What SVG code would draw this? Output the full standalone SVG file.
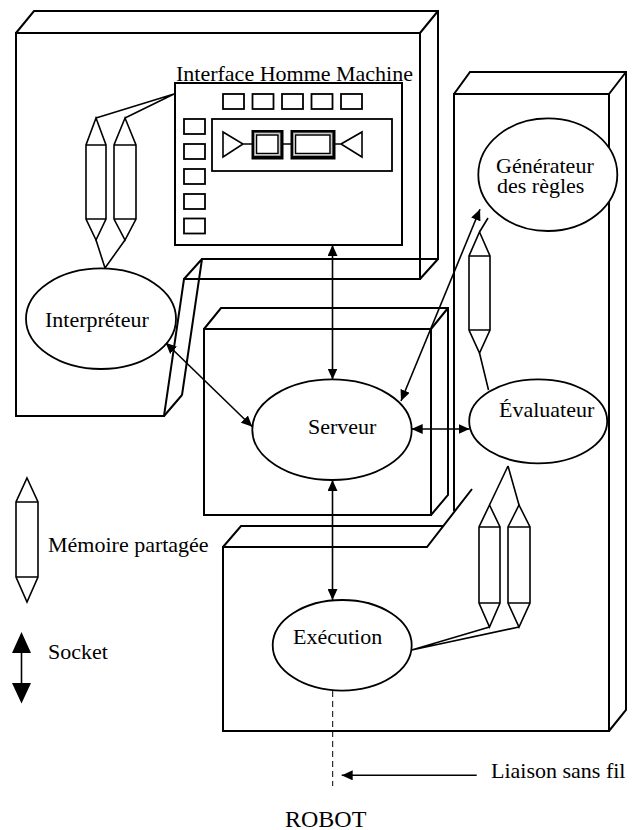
<svg xmlns="http://www.w3.org/2000/svg" width="638" height="830" viewBox="0 0 638 830">
<style>
.box{fill:none;stroke:#000;stroke-width:2;stroke-linejoin:miter}
.node{fill:#fff;stroke:#000;stroke-width:1.8}
.pipe{fill:#fff;stroke:#000;stroke-width:1.6;stroke-linejoin:miter}
.link{fill:none;stroke:#000;stroke-width:1.6}
.arr{fill:none;stroke:#000;stroke-width:1.6;marker-start:url(#ah);marker-end:url(#ah)}
.sq{fill:#fff;stroke:#000;stroke-width:1.8}
text{font-family:"Liberation Serif","Times New Roman",serif;font-size:22px;fill:#000}
</style>
<defs>
<marker id="ah" viewBox="0 0 11 10" refX="11" refY="5" markerWidth="11" markerHeight="10" markerUnits="userSpaceOnUse" orient="auto-start-reverse">
<path d="M0,0 L11,5 L0,10 z" fill="#000"/>
</marker>
</defs>
<rect width="638" height="830" fill="#fff"/>

<g id="box-ihm">
<path class="box" d="M16,33 H420 V279 H184 L164,416 H16 Z"/>
<path class="box" d="M16,33 L34,11 H438 V259 H202 L182,395 M420,33 L438,11 M420,279 L438,259 M184,279 L202,259 M164,416 L182,395"/>
</g>

<g id="box-serveur">
<rect class="box" x="204" y="329" width="227" height="186"/>
<path class="box" d="M204,329 L221,308 H448 V495 L431,515 M431,329 L448,308"/>
</g>

<g id="box-droite">
<path class="box" d="M454,511 V94 H609 V731 H223 V547 H427 L472,489"/>
<path class="box" d="M454,94 L470,72 H626 V710 L609,731 M609,94 L626,72 M223,547 L241,526 H443"/>
</g>

<g id="ihm">
<text x="176" y="81">Interface Homme Machine</text>
<rect class="box" x="175" y="83" width="227" height="162"/>
<g id="ihm-top-buttons">
<rect class="sq" x="223" y="94" width="21" height="15"/>
<rect class="sq" x="252.5" y="94" width="21" height="15"/>
<rect class="sq" x="282" y="94" width="21" height="15"/>
<rect class="sq" x="311.5" y="94" width="21" height="15"/>
<rect class="sq" x="341" y="94" width="21" height="15"/>
</g>
<g id="ihm-left-buttons">
<rect class="sq" x="184" y="119" width="21" height="15"/>
<rect class="sq" x="184" y="144" width="21" height="15"/>
<rect class="sq" x="184" y="169" width="21" height="15"/>
<rect class="sq" x="184" y="194" width="21" height="15"/>
<rect class="sq" x="184" y="218.5" width="21" height="15"/>
</g>
<rect class="sq" x="212" y="119" width="180" height="52"/>
<path d="M223,132 L243,144 L223,157 Z M243,144 H252 M283,144 H291 M335,144 H341 M341,144 L362,132 V157 Z" fill="#fff" stroke="#000" stroke-width="1.6" stroke-linejoin="miter"/>
<rect x="251.5" y="130" width="32" height="29.5" fill="#000"/>
<rect x="254.5" y="133" width="25.5" height="22.5" fill="#fff" stroke="#999" stroke-width="1"/>
<rect x="256.5" y="135" width="21.5" height="18.5" fill="#fff" stroke="#000" stroke-width="1.5"/>
<rect x="290.5" y="130" width="45" height="29.5" fill="#000"/>
<rect x="293.5" y="133" width="38.5" height="22.5" fill="#fff" stroke="#999" stroke-width="1"/>
<rect x="295.5" y="135" width="34.5" height="18.5" fill="#fff" stroke="#000" stroke-width="1.5"/>
</g>

<g id="connectors">
<path class="link" d="M96,118 L174,94 M125,118 L174,94 M96,240 L105,268 M125,240 L105,268"/>
<path class="link" d="M479.5,232 L488,218 M479.5,353 L488.5,390"/>
<path class="link" d="M489.5,505 L508,466 M519,505 L508,466"/>
<path class="link" d="M489.5,627 L411.7,650 M519,627 L411.7,650"/>
<line class="arr" x1="332.5" y1="245" x2="332.5" y2="379.5"/>
<line class="arr" x1="332.5" y1="480" x2="332.5" y2="600"/>
<line class="arr" x1="165.7" y1="342.7" x2="252.3" y2="426.7"/>
<line class="arr" x1="480" y1="209.3" x2="401" y2="401"/>
<line class="arr" x1="411.7" y1="429" x2="469.5" y2="429"/>
<line x1="332.7" y1="691" x2="332.7" y2="786" stroke="#000" stroke-width="1" stroke-dasharray="6,4"/>
<line x1="476.7" y1="775.3" x2="341.7" y2="775.3" stroke="#000" stroke-width="1.6" marker-end="url(#ah)"/>
</g>

<g id="pipe-ihm-1"><path class="pipe" d="M96,118 L106,145 V219 L96,240 L86,219 V145 Z M86,145 H106 M86,219 H106"/></g>
<g id="pipe-ihm-2"><path class="pipe" d="M125,118 L136,145 V219 L125,240 L114,219 V145 Z M114,145 H136 M114,219 H136"/></g>
<g id="pipe-gen-eval"><path class="pipe" d="M479.5,232 L490,256 V330 L479.5,353 L469,330 V256 Z M469,256 H490 M469,330 H490"/></g>
<g id="pipe-eval-exec-1"><path class="pipe" d="M489.5,505 L500,527 V603 L489.5,627 L479,603 V527 Z M479,527 H500 M479,603 H500"/></g>
<g id="pipe-eval-exec-2"><path class="pipe" d="M519,505 L530,527 V603 L519,627 L508,603 V527 Z M508,527 H530 M508,603 H530"/></g>

<g id="interpreteur">
<ellipse class="node" cx="101" cy="318.7" rx="75" ry="50.3"/>
<text x="45" y="327">Interpréteur</text>
</g>
<g id="serveur">
<ellipse class="node" cx="332" cy="429.7" rx="79.7" ry="50.3"/>
<text x="308" y="434">Serveur</text>
</g>
<g id="generateur">
<ellipse class="node" cx="547.8" cy="174.7" rx="69.5" ry="56.3"/>
<text x="496" y="172.5">Générateur</text>
<text x="497" y="192.5">des règles</text>
</g>
<g id="evaluateur">
<ellipse class="node" cx="538.2" cy="421.3" rx="69" ry="42"/>
<text x="499" y="417">Évaluateur</text>
</g>
<g id="execution">
<ellipse class="node" cx="342.2" cy="645.3" rx="69.5" ry="45.3"/>
<text x="293" y="644">Exécution</text>
</g>

<g id="legende">
<path class="pipe" d="M27,478 L38,502 V577 L27,602 L16,577 V502 Z M16,502 H38 M16,577 H38"/>
<text x="48" y="552">Mémoire partagée</text>
<line x1="21.5" y1="650" x2="21.5" y2="686" stroke="#000" stroke-width="1.6"/>
<path d="M21.5,632 L31,653 H12 Z M21.5,703.5 L31,683 H12 Z" fill="#000"/>
<text x="48" y="659">Socket</text>
<text x="491" y="778">Liaison sans fil</text>
</g>
<g id="robot">
<text x="285" y="826.5" style="font-size:24px">ROBOT</text>
</g>
</svg>
